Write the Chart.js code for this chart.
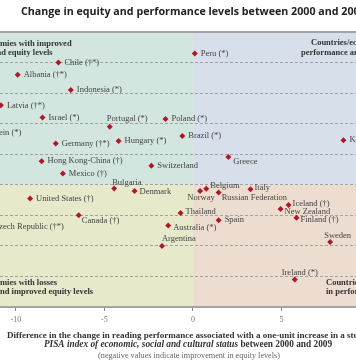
<!DOCTYPE html>
<html><head><meta charset="utf-8">
<script src="https://cdn.jsdelivr.net/npm/chart.js@4"></script>
<style>html,body{margin:0;padding:0;background:#fff}#w{width:356px;height:364px}</style>
</head><body><div id="w"><canvas id="c" width="356" height="364"></canvas></div>
<script>
// ---- data ----
const countries = ["Chile (†*)","Albania (†*)","Indonesia (*)","Peru (*)","Latvia (†*)","Israel (*)","Portugal (*)","Poland (*)","Liechtenstein (*)","Germany (†*)","Hungary (*)","Brazil (*)","Korea","Hong Kong-China (†)","Switzerland","Greece","Mexico (†)","Bulgaria","Denmark","United States (†)","Canada (†)","Czech Republic (†*)","Australia (*)","Argentina","Thailand","Norway","Belgium","Russian Federation","Italy","Spain","Iceland (†)","New Zealand","Finland (†)","Sweden","Ireland (*)"];
const equityChange = [-7.6,-9.9,-6.9,0.1,-10.85,-8.5,-4.7,-1.55,-13.3,-7.75,-4.2,-0.6,8.5,-8.55,-2.35,2.0,-7.35,-4.45,-3.3,-9.2,-6.45,-11.6,-1.4,-1.75,-0.7,0.4,0.75,1.45,3.25,1.45,5.4,4.95,5.85,7.75,5.75];
const performanceChange = [40,36,31,43,26,22,19,21.5,17,13.5,14.3,16,14.6,7.7,6.2,9.1,3.7,-1.2,-2.0,-4.5,-10,-13.6,-13.3,-20,-9.2,-2,-1.3,-2.5,-1.5,-11.6,-6.6,-7.9,-10.8,-18.7,-31];
const xTickValues = [-10,-5,0,5];
const titleText = "Change in equity and performance levels between 2000 and 2009";
const xTitle1 = "Difference in the change in reading performance associated with a one-unit increase in a student's";
const xTitle2a = "PISA index of economic, social and cultural status";
const xTitle2b = " between 2000 and 2009";
const xTitle3 = "(negative values indicate improvement in equity levels)";

// ---- layout / style ----
const labelPlace = {
  "Portugal (*)":[-3,-8,"left"], "Bulgaria":[-2,-6,"left"], "Argentina":[0,-7,"left"],
  "Norway":[1,7,"center"], "Belgium":[4,-3,"left"], "Russian Federation":[3,5,"left"],
  "Italy":[4,-2,"left"], "Iceland (†)":[4,-1.5,"left"], "New Zealand":[4,3,"left"],
  "Finland (†)":[4,2,"left"], "Sweden":[-6,-6,"left"], "Ireland (*)":[5,-7,"center"],
  "Greece":[5,5,"left"], "Canada (†)":[3,5,"left"], "Thailand":[5,-1.5,"left"],
  "Australia (*)":[5,2,"left"], "Denmark":[5,1,"left"]
};
const SERIF = "'Liberation Serif', 'Times New Roman', serif";

const bgPlugin = {
  id:'bg',
  beforeDraw(chart){
    const {ctx, chartArea:a, scales:{x,y}} = chart;
    const x0 = x.getPixelForValue(0), y0 = y.getPixelForValue(0);
    ctx.save();
    ctx.fillStyle = '#d3e5df'; ctx.fillRect(a.left, a.top, x0-a.left, y0-a.top);
    ctx.fillStyle = '#d6dfea'; ctx.fillRect(x0, a.top, a.right-x0, y0-a.top);
    ctx.fillStyle = '#e6e9ca'; ctx.fillRect(a.left, y0, x0-a.left, a.bottom-y0);
    ctx.fillStyle = '#eddcd0'; ctx.fillRect(x0, y0, a.right-x0, a.bottom-y0);
    ctx.restore();
  },
  afterDraw(chart){
    const {ctx, chartArea:a} = chart;
    ctx.save();
    ctx.strokeStyle = '#a3a3a3'; ctx.lineWidth = 2;
    ctx.beginPath(); ctx.moveTo(a.left, a.top); ctx.lineTo(a.right, a.top);
    ctx.moveTo(a.left, a.bottom); ctx.lineTo(a.right, a.bottom); ctx.stroke();
    const meta = chart.getDatasetMeta(0);
    ctx.font = "8.5px " + SERIF; ctx.fillStyle = '#444'; ctx.textBaseline = 'middle';
    meta.data.forEach((pt, i) => {
      const name = countries[i];
      const p = labelPlace[name] || [6,0,"left"];
      ctx.textAlign = p[2];
      ctx.fillText(name, pt.x + p[0], pt.y + p[1]);
    });
    ctx.font = "bold 8.5px " + SERIF; ctx.fillStyle = '#333'; ctx.textAlign = 'left';
    const q = (text, hidden, vx, yy) => ctx.fillText(text, vx - ctx.measureText(hidden).width, yy);
    q("Countries/economies with improved","Countries/econo",0,44);
    q("performance and equity levels","performance and ",8,53);
    q("Countries/economies with improved","",311,43);
    q("performance and declining equity levels","",301,53);
    q("Countries/economies with losses","Countries/econo",0,283);
    q("in performance and improved equity levels","in performance a",0,292);
    q("Countries/economies with losses","",326,283);
    q("in performance and declining equity levels","",326,292);
    ctx.font = "bold 10.7px 'Open Sans', sans-serif"; ctx.fillStyle = '#222';
    ctx.fillText(titleText, 21, 12);
    ctx.font = "bold 9px " + SERIF; ctx.fillStyle = '#333'; ctx.textAlign = 'left';
    ctx.fillText(xTitle1, 7, 336);
    const cx = 188;
    ctx.font = "italic bold 9.3px " + SERIF; const wa = ctx.measureText(xTitle2a).width;
    ctx.font = "bold 9.3px " + SERIF; const wb = ctx.measureText(xTitle2b).width;
    const sx = cx - (wa+wb)/2;
    ctx.font = "italic bold 9.3px " + SERIF; ctx.fillText(xTitle2a, sx, 345);
    ctx.font = "bold 9.3px " + SERIF; ctx.fillText(xTitle2b, sx+wa, 345);
    ctx.font = "8.2px " + SERIF; ctx.fillStyle = '#666'; ctx.textAlign = 'center';
    ctx.fillText(xTitle3, cx + 1, 356);
    ctx.restore();
  }
};

new Chart(document.getElementById('c'), {
  type:'scatter',
  data:{ datasets:[{
    data: countries.map((c,i)=>({x:equityChange[i], y:performanceChange[i]})),
    pointStyle:'rectRot', pointRadius:3, pointHoverRadius:3,
    backgroundColor:'#b0182a', borderWidth:0
  }]},
  options:{
    responsive:false, animation:false, devicePixelRatio:1,
    layout:{autoPadding:false, padding:{top:32,left:0,right:0,bottom:0}},
    plugins:{legend:{display:false}, tooltip:{enabled:false}, title:{display:false}},
    scales:{
      x:{
        type:'linear', min:-10.9, max:9.21,
        afterBuildTicks:s=>{ s.ticks = xTickValues.map(v=>({value:v})); },
        afterFit:s=>{ s.height = 57; },
        grid:{drawOnChartArea:false, drawTicks:true, tickLength:4, tickColor:'#8a8a8a'},
        border:{display:false},
        ticks:{padding:4, color:'#777', font:{family:SERIF, size:8}, maxRotation:0, autoSkip:false}
      },
      y:{
        type:'linear', min:-40, max:50,
        afterBuildTicks:s=>{ const t=[]; for(let v=-40; v<=50; v+=10) t.push({value:v}); s.ticks=t; },
        afterFit:s=>{ s.width = 0; },
        ticks:{display:false},
        grid:{drawTicks:false, lineWidth:1,
          color:c=> (c.tick && (c.tick.value===50 || c.tick.value===-40)) ? 'rgba(0,0,0,0)' : '#9ea3a3'},
        border:{display:false, dash:[3,2]}
      }
    }
  },
  plugins:[bgPlugin]
});
</script>
</body></html>
